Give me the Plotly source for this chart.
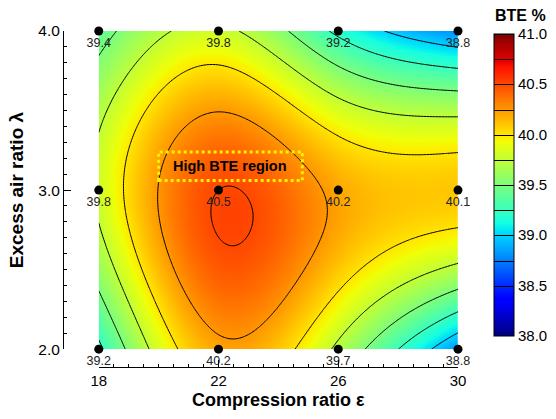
import numpy as np
import plotly.graph_objects as go

# Measured brake thermal efficiency (BTE, %) on the test grid
compression_ratio = [18, 22, 26, 30]
excess_air_ratio = [2.0, 3.0, 4.0]
# rows follow excess_air_ratio, columns follow compression_ratio
bte_measured = [
    [39.2, 40.2, 39.7, 38.8],   # lambda = 2.0
    [39.8, 40.5, 40.2, 40.1],   # lambda = 3.0
    [39.4, 39.8, 39.2, 38.8],   # lambda = 4.0
]

x_ticks = [18, 22, 26, 30]
y_ticks = [2.0, 3.0, 4.0]
cbar_ticks = [38.0, 38.5, 39.0, 39.5, 40.0, 40.5, 41.0]

FONT = "Arial, Liberation Sans, sans-serif"


# ---- smooth surface: tensor-product natural cubic spline through the grid ----
def spline_weights(nodes, q):
    """Matrix W so that natural-spline(q) = W @ values at the nodes."""
    nodes = np.asarray(nodes, float)
    n = len(nodes)
    h = np.diff(nodes)
    A = np.zeros((n, n))
    B = np.zeros((n, n))
    A[0, 0] = A[-1, -1] = 1.0
    for i in range(1, n - 1):
        A[i, i - 1] = h[i - 1]
        A[i, i] = 2 * (h[i - 1] + h[i])
        A[i, i + 1] = h[i]
        B[i, i - 1] = 6 / h[i - 1]
        B[i, i] = -6 / h[i - 1] - 6 / h[i]
        B[i, i + 1] = 6 / h[i]
    Mw = np.linalg.solve(A, B)           # second derivatives per unit value
    q = np.asarray(q, float)
    k = np.clip(np.searchsorted(nodes, q, side="right") - 1, 0, n - 2)
    t = (q - nodes[k]) / h[k]
    W = np.zeros((len(q), n))
    rows = np.arange(len(q))
    W[rows, k] += 1 - t
    W[rows, k + 1] += t
    c0 = h[k] ** 2 / 6 * ((1 - t) ** 3 - (1 - t))
    c1 = h[k] ** 2 / 6 * (t ** 3 - t)
    W += c0[:, None] * Mw[k] + c1[:, None] * Mw[k + 1]
    return W


gx = np.linspace(18, 30, 241)
gy = np.linspace(2, 4, 201)
Wx = spline_weights(compression_ratio, gx)
Wy = spline_weights(excess_air_ratio, gy)
surface = Wy @ np.array(bte_measured, float) @ Wx.T

# ---- jet colour map ----
red = [(0, 0), (0.35, 0), (0.66, 1), (0.89, 1), (1, 0.5)]
green = [(0, 0), (0.125, 0), (0.375, 1), (0.64, 1), (0.91, 0), (1, 0)]
blue = [(0, 0.5), (0.11, 1), (0.34, 1), (0.65, 0), (1, 0)]
stops = sorted({p for seg in (red, green, blue) for p, _ in seg})


def channel(seg, t):
    return np.interp(t, [p for p, _ in seg], [c for _, c in seg])


jet = [[t, "rgb(%d,%d,%d)" % tuple(round(255 * channel(s, t)) for s in (red, green, blue))]
       for t in stops]

fig = go.Figure()

fig.add_trace(go.Contour(
    x=gx, y=gy, z=surface,
    colorscale=jet, zmin=38.0, zmax=41.0,
    contours=dict(coloring="heatmap", start=38.5, end=41.0, size=0.25, showlines=True),
    line=dict(color="black", width=1),
    colorbar=dict(
        x=1.0905, xanchor="left", xpad=0,
        y=0.5428, yanchor="middle", ypad=0,
        len=302, lenmode="pixels",
        thickness=20, thicknessmode="pixels",
        outlinecolor="black", outlinewidth=1,
        tickvals=cbar_ticks, ticktext=["%.1f" % v for v in cbar_ticks],
        ticks="", tickfont=dict(family=FONT, size=15, color="black"),
    ),
    hoverinfo="skip",
))

px_, py_, labels = [], [], []
for j, yv in enumerate(excess_air_ratio):
    for i, xv in enumerate(compression_ratio):
        px_.append(xv)
        py_.append(yv)
        labels.append("%.1f" % bte_measured[j][i])

fig.add_trace(go.Scatter(
    x=px_, y=py_, mode="markers+text",
    marker=dict(color="black", size=9),
    text=labels, textposition="bottom center",
    textfont=dict(family=FONT, size=12.5, color="#222222"),
    cliponaxis=False, showlegend=False, hoverinfo="skip",
))

# highlighted optimum region
fig.add_shape(type="rect", x0=20.0, x1=24.8, y0=3.06, y1=3.24,
              line=dict(color="#FFF200", width=3, dash="dot"), layer="above")
fig.add_annotation(x=22.4, y=3.15, text="<b>High BTE region</b>", showarrow=False,
                   font=dict(family=FONT, size=14.5, color="black"))

# colour bar title
fig.add_annotation(xref="paper", yref="paper", x=1.157, y=1.047, text="<b>BTE %</b>",
                   showarrow=False, xanchor="center", yanchor="middle",
                   font=dict(family=FONT, size=16, color="black"))

fig.update_layout(
    width=556, height=419,
    margin=dict(l=63, r=95, t=31, b=49),
    paper_bgcolor="white", plot_bgcolor="white",
    showlegend=False,
    font=dict(family=FONT, color="black"),
    xaxis=dict(
        domain=[0.0905, 1], anchor="free", position=0,
        range=[18, 30], tickvals=x_ticks, ticktext=[str(v) for v in x_ticks],
        ticks="inside", ticklen=7, tickwidth=1, tickcolor="black",
        minor=dict(dtick=0.5, ticks="inside", ticklen=3, tickcolor="black"),
        showline=True, linecolor="black", linewidth=1,
        showgrid=False, zeroline=False,
        tickfont=dict(family=FONT, size=15, color="black"),
        title=dict(text="<b>Compression ratio ε</b>", standoff=5,
                   font=dict(family=FONT, size=18, color="black")),
    ),
    yaxis=dict(
        domain=[0.0531, 1], anchor="free", position=0,
        range=[2, 4], tickvals=y_ticks, ticktext=["%.1f" % v for v in y_ticks],
        ticks="inside", ticklen=7, tickwidth=1, tickcolor="black",
        minor=dict(dtick=0.1, ticks="inside", ticklen=3, tickcolor="black"),
        showline=True, linecolor="black", linewidth=1,
        showgrid=False, zeroline=False,
        tickfont=dict(family=FONT, size=15.5, color="black"),
        title=dict(text="<b>Excess air ratio λ</b>", standoff=8,
                   font=dict(family=FONT, size=19, color="black")),
    ),
)

fig.write_html("out.html")
